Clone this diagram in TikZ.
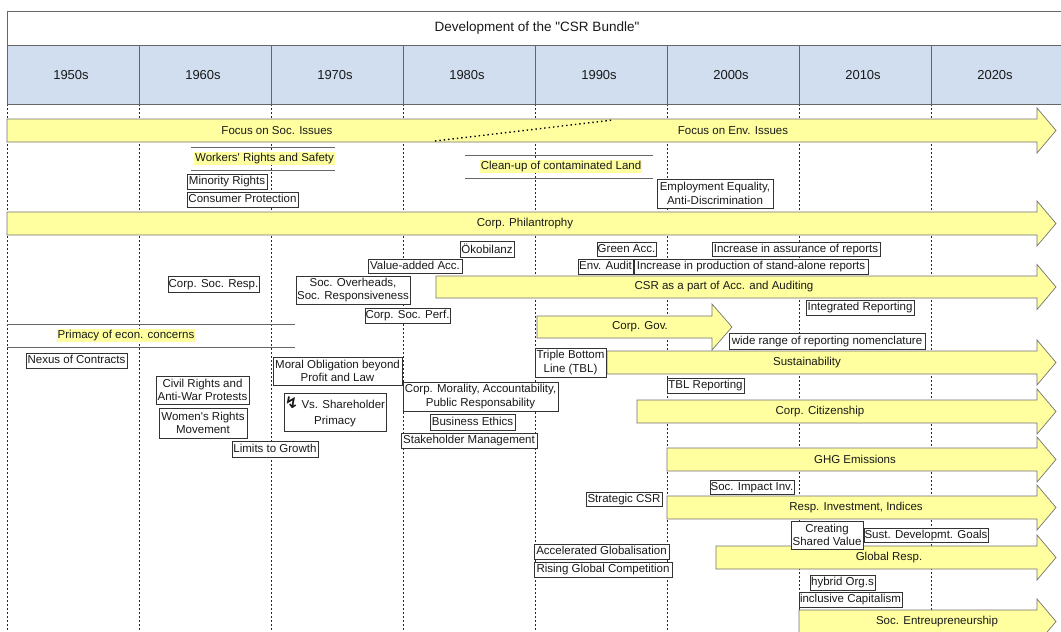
\documentclass[tikz,border=0pt]{standalone}
\usepackage{fontspec}
\newfontfamily\chartfont{Liberation Sans}
\newfontfamily\zigfont{DejaVu Sans}
\definecolor{barfill}{RGB}{255,255,160}
\definecolor{headfill}{RGB}{208,222,240}

% labelled box given by its corners (x1,y1,x2,y2)
\newcommand{\tagat}[6]{\node[tag, minimum width={#4-#2}, minimum height={#5-#3}] (#1) at ({(#2+#4)/2},{(#3+#5)/2}) {#6};}
\newcommand{\tagmat}[6]{\node[tagm, minimum width={#4-#2}, minimum height={#5-#3}] (#1) at ({(#2+#4)/2},{(#3+#5)/2}) {#6};}
% block arrow: name, x start, y top, y bottom, head start, tip, text x, text
\newcommand{\bararrow}[8]{%
  \path[barshape] (#2,#3) -- (#5,#3) -- (#5,{(#3+#4)/2-22.5}) -- (#6,{(#3+#4)/2})
    -- (#5,{(#3+#4)/2+22.5}) -- (#5,#4) -- (#2,#4) -- cycle;
  \node[bartext] (#1) at (#7,{(#3+#4)/2}) {#8};}
% ruled band with highlighted caption: name, x1, x2, y top, y bottom, text x, text
\newcommand{\band}[7]{%
  \draw[bandline] (#2,#4) -- (#3,#4) (#2,#5) -- (#3,#5);
  \node[bandtext] (#1) at (#6,{(#4+#5)/2}) {#7};}

\begin{document}
\begin{tikzpicture}[x=1pt,y=-1pt,
  every node/.style={font=\chartfont\fontsize{11.5}{13.5}\selectfont, text=black!90},
  gridline/.style={draw=black!85, line width=0.6pt, dash pattern=on 2pt off 2pt},
  barshape/.style={fill=barfill, draw=black!55, line width=0.7pt},
  bartext/.style={inner sep=0pt},
  tag/.style={draw=black!80, fill=white, line width=0.7pt, inner xsep=0.5pt, inner ysep=0pt, text height=8.6pt, text depth=2.4pt},
  tagm/.style={draw=black!80, fill=white, line width=0.7pt, inner xsep=0.5pt, inner ysep=0pt, align=center},
  bandline/.style={draw=black!60, line width=0.7pt},
  bandtext/.style={fill=barfill, inner xsep=1pt, inner ysep=1.5pt},
  frameline/.style={draw=black!60, line width=0.8pt},
]
\useasboundingbox (0,0) rectangle (1061,632);
\clip (0,0) rectangle (1061,632);
\fill[white] (0,0) rectangle (1061,632);

% decade grid
\foreach \gx in {7,139,271,403,535,667,799,931}
  \draw[gridline] (\gx,104) -- (\gx,640);

% title and decade header
\draw[frameline] (7,11) rectangle (1070,45);
\node (title) at (537,28) {\fontsize{13.5}{16}\selectfont Development of the "CSR Bundle"};
\draw[frameline, fill=headfill] (7,45) rectangle (1070,104);
\foreach \gx in {139,271,403,535,667,799,931}
  \draw[frameline] (\gx,45) -- (\gx,104);
\foreach \yr [count=\i from 0] in {1950,1960,1970,1980,1990,2000,2010,2020}
  \node (y\yr) at ({71+132*\i},75) {\fontsize{13}{15}\selectfont \yr s};

% long-running themes
\bararrow{focus}{7}{119}{142}{1037}{1056}{277}{Focus on Soc. Issues}
\node[bartext] (focusenv) at (733,130.5) {Focus on Env. Issues};
\coordinate (dotA) at (435,141);
\coordinate (dotB) at (613,120);
\draw[line width=1.4pt, dash pattern=on 1.4pt off 3pt] (dotA) -- (dotB);

\band{workers}{191}{335}{147}{170}{264.5}{Workers' Rights and Safety}
\band{cleanup}{465}{653}{155}{178}{561}{Clean-up of contaminated Land}
\tagat{minority}{187}{174}{267}{189}{Minority Rights}
\tagat{consumer}{187}{192}{298}{207}{Consumer Protection}
\tagmat{employment}{657}{179}{773}{208}{Employment Equality,\\Anti-Discrimination}

\bararrow{philanthropy}{7}{212}{235}{1037}{1056}{525}{Corp. Philantrophy}

\bararrow{csracc}{436}{276}{298}{1037}{1056}{724}{CSR as a part of Acc. and Auditing}
\path[barshape] (537,316) -- (712,316) -- (712,304) -- (732,327) -- (712,350) -- (712,338) -- (537,338) -- cycle;
\node[bartext] (corpgov) at (640,327) {Corp. Gov.};

\tagat{oekobilanz}{460}{241}{514}{257}{\raisebox{-1.2pt}{\"Okobilanz}}
\tagat{greenacc}{597}{242}{656}{256}{Green Acc.}
\tagat{assurance}{712}{242}{880}{256}{Increase in assurance of reports}
\tagat{valueadded}{368}{259}{462}{273}{Value-added Acc.}
\tagat{envaudit}{578}{259}{633}{274}{Env. Audit}
\tagat{standalone}{634}{259}{868}{274}{Increase in production of stand-alone reports}
\tagat{csresp}{168}{276}{259}{292}{Corp. Soc. Resp.}
\tagmat{overheads}{296}{276}{410}{304}{Soc. Overheads,\\Soc. Responsiveness}
\tagat{socperf}{365}{308}{450}{323}{Corp. Soc. Perf.}
\tagat{integrated}{806}{300}{914}{315}{Integrated Reporting}
\tagat{nomenclature}{729}{333}{925}{349}{wide range of reporting nomenclature}

\band{primacy}{7}{295}{324}{347}{126}{Primacy of econ. concerns}

\bararrow{sustainability}{607}{351}{374}{1037}{1056}{807}{Sustainability}
\bararrow{citizenship}{637}{400}{423}{1037}{1056}{820}{Corp. Citizenship}
\bararrow{ghg}{667}{448}{471}{1037}{1056}{855}{GHG Emissions}
\bararrow{respinv}{667}{496}{519}{1037}{1056}{856}{Resp. Investment, Indices}
\bararrow{globalresp}{716}{546}{569}{1037}{1056}{889}{Global Resp.}
\bararrow{socent}{799}{610}{633}{1037}{1056}{937}{Soc. Entreupreneurship}

\tagat{nexus}{26}{353}{127}{368}{Nexus of Contracts}
\tagmat{moral}{273}{357}{402}{385}{Moral Obligation beyond\\Profit and Law}
\tagmat{tbl}{535}{348}{606}{377}{Triple Bottom\\Line (TBL)}
\tagmat{civil}{156}{376}{249}{404}{Civil Rights and\\Anti-War Protests}
\tagmat{shareholder}{284}{393}{386}{431}{{\zigfont\bfseries\fontsize{16}{16}\selectfont ↯} Vs. Shareholder\\[2pt]Primacy}
\tagmat{morality}{403}{382}{558}{411}{Corp. Morality, Accountability,\\Public Responsability}
\tagat{tblrep}{667}{378}{744}{393}{TBL Reporting}
\tagmat{women}{159}{408}{247}{438}{Women's Rights\\Movement}
\tagat{ethics}{430}{414}{515}{430}{Business Ethics}
\tagat{stakeholder}{401}{433}{537}{448}{Stakeholder Management}
\tagat{limits}{232}{441}{318}{457}{Limits to Growth}

\tagat{impactinv}{710}{480}{794}{494}{Soc. Impact Inv.}
\tagat{strategic}{586}{492}{662}{506}{Strategic CSR}
\tagmat{sharedvalue}{791}{521}{863}{549}{Creating\\Shared Value}
\tagat{sdg}{864}{528}{988}{542}{Sust. Developmt. Goals}
\tagat{globalisation}{534}{544}{669}{559}{Accelerated Globalisation}
\tagat{competition}{534}{562}{672}{577}{Rising Global Competition}
\tagat{hybrid}{810}{575}{875}{590}{hybrid Org.s}
\tagat{inclusive}{799}{592}{902}{607}{inclusive Capitalism}
\end{tikzpicture}
\end{document}
